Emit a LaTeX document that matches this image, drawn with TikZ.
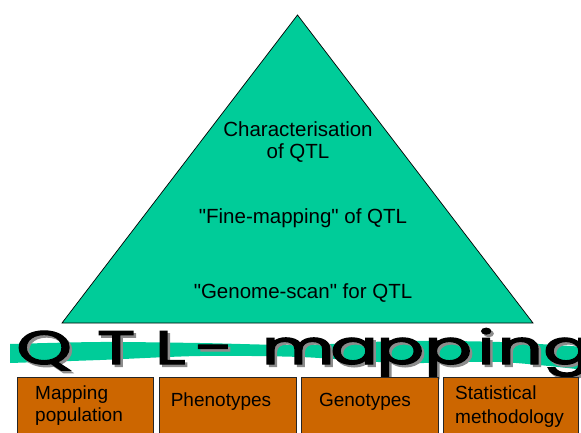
\documentclass[tikz,border=0pt]{standalone}
\usepackage{fontspec}
\setmainfont{Liberation Sans}
\newfontfamily\titlefont{Poppins}[FakeBold=2.5]
\newfontfamily\plainquote{Liberation Sans}
\newcommand\dq{{\plainquote\symbol{34}}}
\definecolor{tealfill}{RGB}{0,204,153}
\definecolor{boxorange}{RGB}{204,102,0}
\newcommand\ttlchar[1]{\makebox[0pt]{\scalebox{1.5}[1]{#1}}}
\newcommand\ttltext{\hspace*{44pt}\ttlchar{Q}\hspace{72pt}\ttlchar{T}\hspace{54pt}\ttlchar{L}\hspace{44pt}\ttlchar{-}\hspace{84pt}\ttlchar{m}\hspace{56pt}\ttlchar{a}\hspace{46pt}\ttlchar{p}\hspace{48pt}\ttlchar{p}\hspace{38pt}\ttlchar{i}\hspace{34pt}\ttlchar{n}\hspace{47pt}\ttlchar{g}}
\begin{document}
\begin{tikzpicture}[x=1pt,y=-1pt,
  lvl/.style={font=\fontsize{20.5}{22}\selectfont, align=center, inner sep=0pt},
  basebox/.style={draw=black!85, fill=boxorange, line width=0.8pt},
  btxt/.style={font=\fontsize{19}{23}\selectfont, align=left, inner sep=0pt},
  ttl/.style={font=\titlefont\fontsize{47}{47}\selectfont, inner sep=0pt, anchor=base west}]
\path[use as bounding box] (0,0) rectangle (581,433);
\clip (0,0) rectangle (581,433);
% pyramid
\filldraw[fill=tealfill, draw=black, line width=0.7pt] (297.5,15) -- (533,323) -- (62,323) -- cycle;
% wavy band
\fill[tealfill] plot[smooth] coordinates {(10,344) (100,342) (200,343) (300,345) (400,341) (500,342) (585,347)}
  -- plot[smooth] coordinates {(585,370) (500,362) (400,363) (300,357) (200,356) (100,360) (10,363)} -- cycle;
% title
\node[ttl, text=black!45] (titleshadow) at (2.5,366.5) {\ttltext};
\node[ttl] (title) at (0,364) {\ttltext};
% base boxes
\draw[basebox] (17,377) rectangle (153,445);
\draw[basebox] (159,377) rectangle (296,445);
\draw[basebox] (301,377) rectangle (438,445);
\draw[basebox] (443,377) rectangle (578,445);
% pyramid texts
\node[lvl, anchor=base] (charac) at (298,137) {Characterisation};
\node[lvl, anchor=base] (charac2) at (298,159) {of QTL};
\node[lvl, anchor=base] (fine) at (303,223) {\dq Fine-mapping\dq{} of QTL};
\node[lvl, anchor=base] (genome) at (303,298) {\dq Genome-scan\dq{} for QTL};
% box texts
\node[btxt, anchor=base west] (map1) at (35,399) {Mapping};
\node[btxt, anchor=base west] (map2) at (35,421) {population};
\node[btxt, anchor=base] (pheno) at (221,406) {Phenotypes};
\node[btxt, anchor=base] (geno) at (365,406) {Genotypes};
\node[btxt, anchor=base west] (stat1) at (455,399) {Statistical};
\node[btxt, anchor=base west] (stat2) at (455,423) {methodology};
\end{tikzpicture}
\end{document}
